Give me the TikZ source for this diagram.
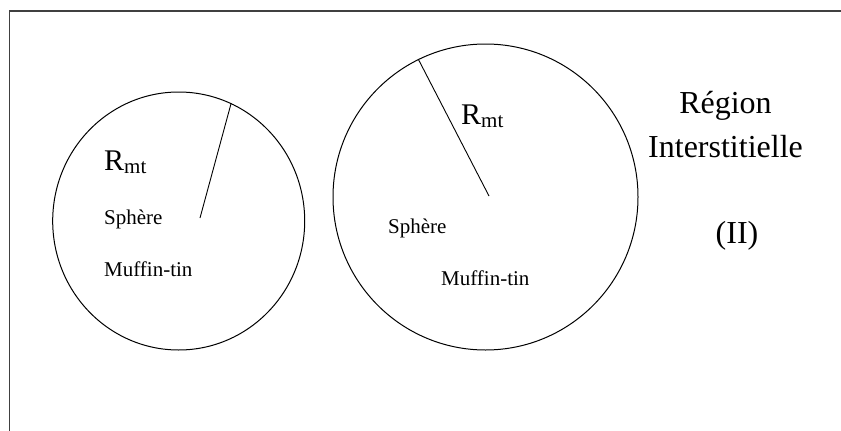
\documentclass[tikz,border=0pt]{standalone}
\usepackage{fontspec}
\setmainfont{Liberation Serif}
\usetikzlibrary{shapes.geometric}
\begin{document}
\begin{tikzpicture}[x=1pt,y=-1pt,
  sphere/.style={draw, ellipse, line width=1pt, inner sep=0pt},
  radius/.style={draw, line width=0.9pt},
  small/.style={font=\fontsize{21}{24}\selectfont, inner sep=0pt, anchor=base west},
  big/.style={font=\fontsize{32}{36}\selectfont, inner sep=0pt, anchor=base},
  rmt/.style={inner sep=0pt, anchor=base west}
]
\useasboundingbox (0,0) rectangle (841,431);
% open frame: top and left edges only
\draw[line width=1.2pt, black!75] (9.5,431) -- (9.5,11) -- (841,11);

% left muffin-tin sphere
\node[sphere, minimum width=252pt, minimum height=258pt] (cL) at (178.7,221) {};
\coordinate (rL) at (200,218);
\draw[radius] (rL) -- (cL.66);
\node[rmt] (rmtL) at (104,170) {\fontsize{30}{32}\selectfont R\raisebox{-3pt}{\fontsize{21}{24}\selectfont mt}};
\node[small] (sphL) at (104,224) {Sphère};
\node[small] (mufL) at (104,276) {Muffin-tin};

% right muffin-tin sphere
\node[sphere, minimum width=305pt, minimum height=306pt] (cR) at (485.5,197) {};
\coordinate (rR) at (489,196);
\draw[radius] (rR) -- (cR.116.5);
\node[rmt] (rmtR) at (461,124) {\fontsize{30}{32}\selectfont R\raisebox{-3pt}{\fontsize{21}{24}\selectfont mt}};
\node[small] (sphR) at (388,233) {Sphère};
\node[small] (mufR) at (441,285) {Muffin-tin};

% interstitial region labels
\node[big] (reg) at (725.5,113) {Région};
\node[big] (int) at (725.5,157) {Interstitielle};
\node[big] (ii) at (737,243) {(II)};
\end{tikzpicture}
\end{document}
